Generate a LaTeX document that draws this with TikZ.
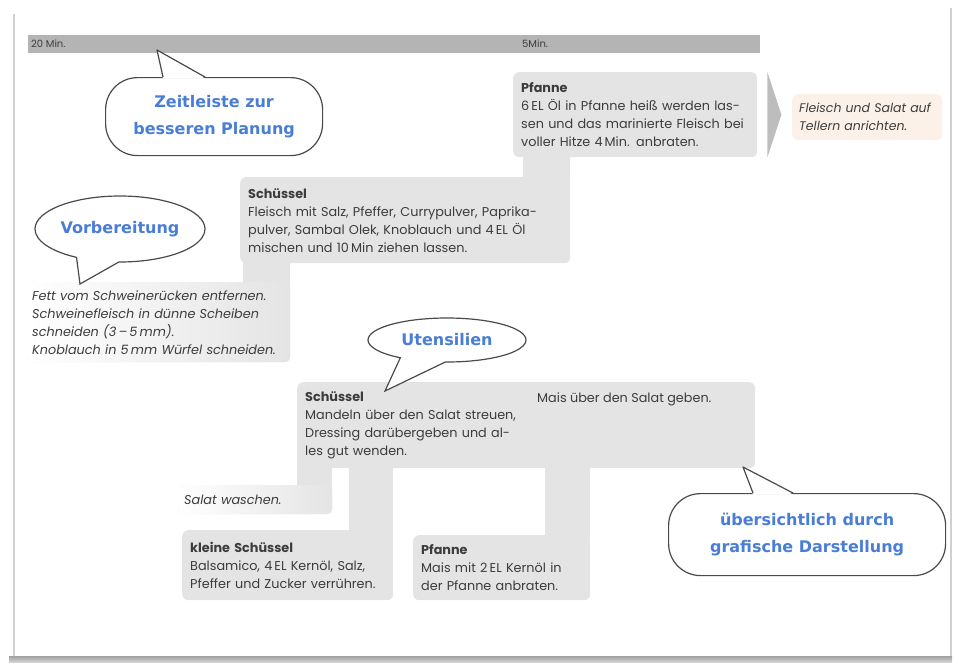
\documentclass[tikz,border=0pt]{standalone}
\usepackage{fontspec}
\setmainfont{Poppins}
\newfontfamily\bubblefont{DejaVu Sans}
\usepackage{tikz}
\usetikzlibrary{shapes.callouts, calc, positioning}
\pgfdeclarelayer{background}
\pgfsetlayers{background,main}

\definecolor{boxgray}{HTML}{E4E4E4}
\definecolor{bargray}{HTML}{B4B4B4}
\definecolor{textgray}{HTML}{3C3C3C}
\definecolor{callblue}{HTML}{4A7DD6}
\definecolor{calloutline}{HTML}{4A4A4A}
\definecolor{peach}{HTML}{FCF1E8}
\definecolor{chevgray}{HTML}{BDBDBD}
\definecolor{framegray}{HTML}{D0D0D0}

\begin{document}
\begin{tikzpicture}[x=1pt, y=-1pt, node distance=18pt]
    \tikzstyle{task} = [rectangle, rounded corners=6pt, fill=boxgray, text=textgray, align=left, inner xsep=8pt, inner ysep=0pt, font=\fontsize{12.8}{18}\selectfont, anchor=north west]
    \tikzstyle{fade} = [task, left color=white, right color=boxgray, font=\itshape\fontsize{12.8}{18}\selectfont]
    \tikzstyle{plain} = [text=textgray, inner sep=0pt, font=\fontsize{12.8}{18}\selectfont]
    \tikzstyle{timelabel} = [text=textgray, inner sep=0pt, font=\fontsize{10}{11}\selectfont]
    \tikzstyle{pill} = [rectangle, rounded corners=32pt, draw=calloutline, line width=1.2pt, fill=white, align=center, text=callblue, font=\bubblefont\bfseries\fontsize{16}{27}\selectfont, anchor=north west]
    \tikzstyle{bubble} = [ellipse callout, draw=calloutline, line width=1.2pt, fill=white, text=callblue, font=\bubblefont\bfseries\fontsize{16}{20}\selectfont, inner sep=0pt, callout pointer arc=30]
    \tikzstyle{tail} = [draw=calloutline, line width=1.2pt, line join=round]
    \tikzstyle{stem} = [draw=boxgray]

    \useasboundingbox (0,0) rectangle (959,665);
    \draw[framegray, line width=1.5pt] (14,14) -- (14,656);
    \draw[framegray, line width=1.5pt] (951,8) -- (951,656);
    \fill[top color=gray!75, bottom color=gray!35] (9,656) rectangle (952,662);

    \node (bar) [rectangle, fill=bargray, minimum width=732pt, minimum height=18pt, inner sep=0pt, anchor=north west] at (28,35) {};
    \node (startlabel) [timelabel, anchor=west] at ([xshift=3pt]bar.west) {20 Min.};
    \node (endlabel) [timelabel, anchor=west] at ([xshift=494pt]bar.west) {5Min.};

    \node (pfanneA) [task, text width=228pt, minimum height=85pt] at (513,72) {\textbf{Pfanne}\\6\,EL Öl in Pfanne heiß werden las-\\sen und das marinierte Fleisch bei\\voller Hitze 4\,Min. anbraten.};
    \node (schuesselA) [task, text width=314pt, minimum height=86pt] at (240,177) {\textbf{Schüssel}\\Fleisch mit Salz, Pfeffer, Currypulver, Paprika-\\pulver, Sambal Olek, Knoblauch und 4\,EL Öl\\mischen und 10\,Min ziehen lassen.};
    \node (prep) [fade, inner xsep=4pt, text width=254pt, minimum height=80pt] at (28,282) {Fett vom Schweinerücken entfernen.\\Schweinefleisch in dünne Scheiben\\schneiden (3\,–\,5\,mm).\\Knoblauch in 5\,mm Würfel schneiden.};
    \node (teller) [task, fill=peach, inner xsep=7pt, text width=136pt, minimum height=46pt, font=\itshape\fontsize{12.5}{18}\selectfont] at (792,94) {Fleisch und Salat auf\\Tellern anrichten.};

    \node (schuesselB) [task, text width=442pt, minimum height=86pt] at (297,382) {\textbf{Schüssel}\\Mandeln über den Salat streuen,\\Dressing darübergeben und al-\\les gut wenden.};
    \node (mais) [plain, anchor=west] at (537,399) {Mais über den Salat geben.};
    \node (salat) [fade, inner xsep=6pt, text width=142pt, minimum height=29pt] at (178,485) {Salat waschen.};
    \node (klein) [task, text width=195pt, minimum height=70pt] at (182,530) {\textbf{kleine Schüssel}\\Balsamico, 4\,EL Kernöl, Salz,\\Pfeffer und Zucker verrühren.};
    \node (pfanneB) [task, text width=161pt, minimum height=65pt] at (413,535) {\textbf{Pfanne}\\Mais mit 2\,EL Kernöl in\\der Pfanne anbraten.};

    \begin{pgfonlayer}{background}
        \draw[stem, line width=47pt] ($(schuesselA.north east)+(-23.5,8)$) -- ($(schuesselA.north east |- pfanneA.south)+(-23.5,-8)$);
        \draw[stem, line width=47pt] ($(prep.north east)+(-23.5,8)$) -- ($(prep.north east |- schuesselA.south)+(-23.5,-8)$);
        \draw[stem, line width=35pt] ($(salat.north east)+(-17.5,8)$) -- ($(salat.north east |- schuesselB.south)+(-17.5,-8)$);
        \draw[stem, line width=44pt] ($(klein.north east)+(-22,8)$) -- ($(klein.north east |- schuesselB.south)+(-22,-8)$);
        \draw[stem, line width=45pt] ($(pfanneB.north east)+(-22.5,8)$) -- ($(pfanneB.north east |- schuesselB.south)+(-22.5,-8)$);
    \end{pgfonlayer}

    \fill[chevgray] ($(pfanneA.north east)+(10,0)$) -- ($(pfanneA.east)+(24,0)$) -- ($(pfanneA.south east)+(10,0)$) -- cycle;

    \node (zeit) [pill, minimum width=217pt, minimum height=78pt] at (105,77) {Zeitleiste zur\\besseren Planung};
    \coordinate (zeittip) at (157,50);
    \fill[white] ($(zeit.north west)+(58,1.5)$) -- (zeittip) -- ($(zeit.north west)+(100,1.5)$) -- cycle;
    \draw[tail] ($(zeit.north west)+(58,0)$) -- (zeittip) -- ($(zeit.north west)+(100,0)$);

    \node (uber) [pill, minimum width=277pt, minimum height=82pt] at (668,493) {übersichtlich durch\\grafische Darstellung};
    \coordinate (ubertip) at (743,467);
    \fill[white] ($(uber.north west)+(85,1.5)$) -- (ubertip) -- ($(uber.north west)+(125,1.5)$) -- cycle;
    \draw[tail] ($(uber.north west)+(85,0)$) -- (ubertip) -- ($(uber.north west)+(125,0)$);

    \node (vorb) [bubble, minimum width=170pt, minimum height=66pt, callout absolute pointer={(80,284)}] at (120,229) {Vorbereitung};
    \node (utens) [bubble, minimum width=158pt, minimum height=44pt, callout pointer arc=35, callout absolute pointer={(385,391)}] at (447,340) {Utensilien};
\end{tikzpicture}
\end{document}
